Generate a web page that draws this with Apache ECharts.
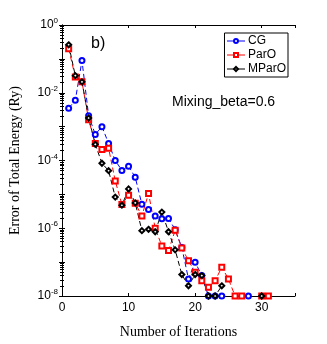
<!DOCTYPE html>
<html>
<head>
<meta charset="UTF-8">
<script src="https://cdn.jsdelivr.net/npm/echarts@6/dist/echarts.min.js"></script>
<style>
  html, body { margin: 0; padding: 0; background: #fff; }
  #chart { width: 327px; height: 344px; }
</style>
</head>
<body>
<div id="chart"></div>
<script>
// iteration numbers and energy errors (Ry); null breaks the line
const cgIter   = [1, 2, 3, 4, 5, 6, 7, 8, 9, 10, 11, 12, 13, 14, 15, 16, 17, 18, 19, 20, 21, 22, 23, 24, 25, 28];
const cgErr    = [3.5e-3, 6.0e-3, 8.9e-2, 2.1e-3, 5.9e-4, 1.0e-3, 3.2e-4, 1.0e-4, 5.1e-5, 6.8e-5, 3.2e-5,
                  5.1e-6, 3.6e-6, 2.3e-6, 1.9e-6, 1.95e-6, 9.1e-7, 2.7e-7, 3.2e-8, 1.0e-7, 4.0e-8,
                  1e-8, 1e-8, 1e-8, null, 1e-8];
const parIter  = [1, 2, 3, 4, 5, 6, 7, 8, 9, 10, 11, 12, 13, 14, 15, 16, 17, 18, 19, 20, 21, 22, 23, 24, 25, 26, 27, 28, 30, 31];
const parErr   = [0.2, 2.9e-2, 2.1e-2, 1.6e-3, 3.2e-4, 2.1e-4, 2.3e-4, 2.5e-5, 5.0e-6, 9.5e-6, 5.5e-6,
                  2.3e-6, 1.07e-5, 1.0e-6, 3.0e-7, 2.2e-7, 8.7e-7, 2.6e-7, 1.1e-7, 5.0e-8, 2.8e-8,
                  1.8e-8, 2.8e-8, 7.1e-8, 3.2e-8, 1e-8, 1e-8, null, 1e-8, 1e-8];
const mparIter = [1, 2, 3, 4, 5, 6, 7, 8, 9, 10, 11, 12, 13, 14, 15, 16, 17, 18, 19, 20, 21, 22, 23, 24, 25, 30];
const mparErr  = [0.26, 3.2e-2, 2.1e-2, 1.8e-3, 3.0e-4, 8.3e-5, 5.0e-5, 8.3e-6, 4.8e-6, 1.45e-5, 5.6e-6,
                  8.5e-7, 9.3e-7, 7.9e-7, 3.0e-6, 7.9e-7, 2.3e-7, 4.3e-8, 2.0e-8, 4.3e-8, 4.0e-8,
                  1e-8, 1e-8, 2.0e-8, null, 1e-8];
const xTicks = [0, 10, 20, 30];
const yExp = { 1: '0', 1e-2: '-2', 1e-4: '-4', 1e-6: '-6', 1e-8: '-8' };

function pairs(xs, ys) { return xs.map((x, i) => [x, ys[i]]); }

function mkSeries(name, color, symbol, xs, ys) {
  return {
    name: name, type: 'line', data: pairs(xs, ys),
    symbol: symbol, symbolSize: 5,
    connectNulls: false,
    lineStyle: { color: color, width: 1, type: [5, 3] },
    itemStyle: { color: color, borderColor: color, borderWidth: 0.7 },
    z: 3
  };
}

const sans = 'Liberation Sans';
const serif = 'Liberation Serif';

const option = {
  animation: false,
  backgroundColor: '#fff',
  grid: { left: 55, right: 32, top: 25, bottom: 45 },
  legend: {
    orient: 'vertical', right: 39, top: 33,
    data: ['CG', 'ParO', 'MParO'],
    backgroundColor: '#fff',
    borderColor: '#000', borderWidth: 1,
    padding: [2, 2, 2, 2], itemGap: 2,
    itemWidth: 18, itemHeight: 5,
    lineStyle: { type: 'solid', width: 1 },
    itemStyle: { borderWidth: 0.7 },
    textStyle: { fontFamily: sans, fontSize: 12, color: '#000', padding: [0, 0, 0, -2] }
  },
  graphic: [
    { type: 'text', left: 91, top: 36, style: { text: 'b)', font: '16px "Liberation Sans"', fill: '#000' } },
    { type: 'text', left: 172, top: 95, style: { text: 'Mixing_beta=0.6', font: '14px "Liberation Sans"', fill: '#000' } }
  ],
  xAxis: [{
    type: 'value', min: 0, max: 35, interval: 10,
    name: 'Number of Iterations', nameLocation: 'middle', nameGap: 29,
    nameTextStyle: { fontFamily: serif, fontSize: 14, color: '#000' },
    axisLine: { show: true, lineStyle: { color: '#000', width: 1 } },
    axisTick: { inside: true, length: 3, lineStyle: { color: '#000' } },
    axisLabel: { fontFamily: sans, fontSize: 12, color: '#000', margin: 6,
      formatter: v => xTicks.includes(v) ? String(v) : '' },
    splitLine: { show: false }
  }, {
    type: 'value', min: 0, max: 35, interval: 10, position: 'top',
    axisLine: { show: true, lineStyle: { color: '#000', width: 1 } },
    axisTick: { inside: true, length: 3, lineStyle: { color: '#000' } },
    axisLabel: { show: false }, splitLine: { show: false }
  }],
  yAxis: [{
    type: 'log', logBase: 10, min: 1e-8, max: 1,
    name: 'Error of Total Energy (Ry)', nameLocation: 'middle', nameGap: 40,
    nameTextStyle: { fontFamily: serif, fontSize: 14, color: '#000' },
    axisLine: { show: true, lineStyle: { color: '#000', width: 1 } },
    axisTick: { inside: true, length: 3, lineStyle: { color: '#000' } },
    minorTick: { show: true, splitNumber: 9, length: 2, lineStyle: { color: '#000' } },
    axisLabel: {
      margin: 4,
      formatter: v => {
        const k = Object.keys(yExp).find(e => Math.abs(Math.log10(+e) - Math.log10(v)) < 1e-6);
        return k ? '{b|10}{s|' + yExp[k] + '}' : '';
      },
      rich: {
        b: { fontFamily: sans, fontSize: 12, color: '#000' },
        s: { fontFamily: sans, fontSize: 8, color: '#000', padding: [0, 0, 8, 0] }
      }
    },
    splitLine: { show: false }
  }, {
    type: 'log', logBase: 10, min: 1e-8, max: 1, position: 'right',
    axisLine: { show: true, lineStyle: { color: '#000', width: 1 } },
    axisTick: { inside: true, length: 3, lineStyle: { color: '#000' } },
    minorTick: { show: true, splitNumber: 9, length: 2, lineStyle: { color: '#000' } },
    axisLabel: { show: false }, splitLine: { show: false }
  }],
  series: [
    mkSeries('CG', '#0000ff', 'emptyCircle', cgIter, cgErr),
    mkSeries('ParO', '#ff0000', 'emptyRect', parIter, parErr),
    mkSeries('MParO', '#000000', 'emptyDiamond', mparIter, mparErr)
  ]
};

const chart = echarts.init(document.getElementById('chart'));
chart.setOption(option);
</script>
</body>
</html>
